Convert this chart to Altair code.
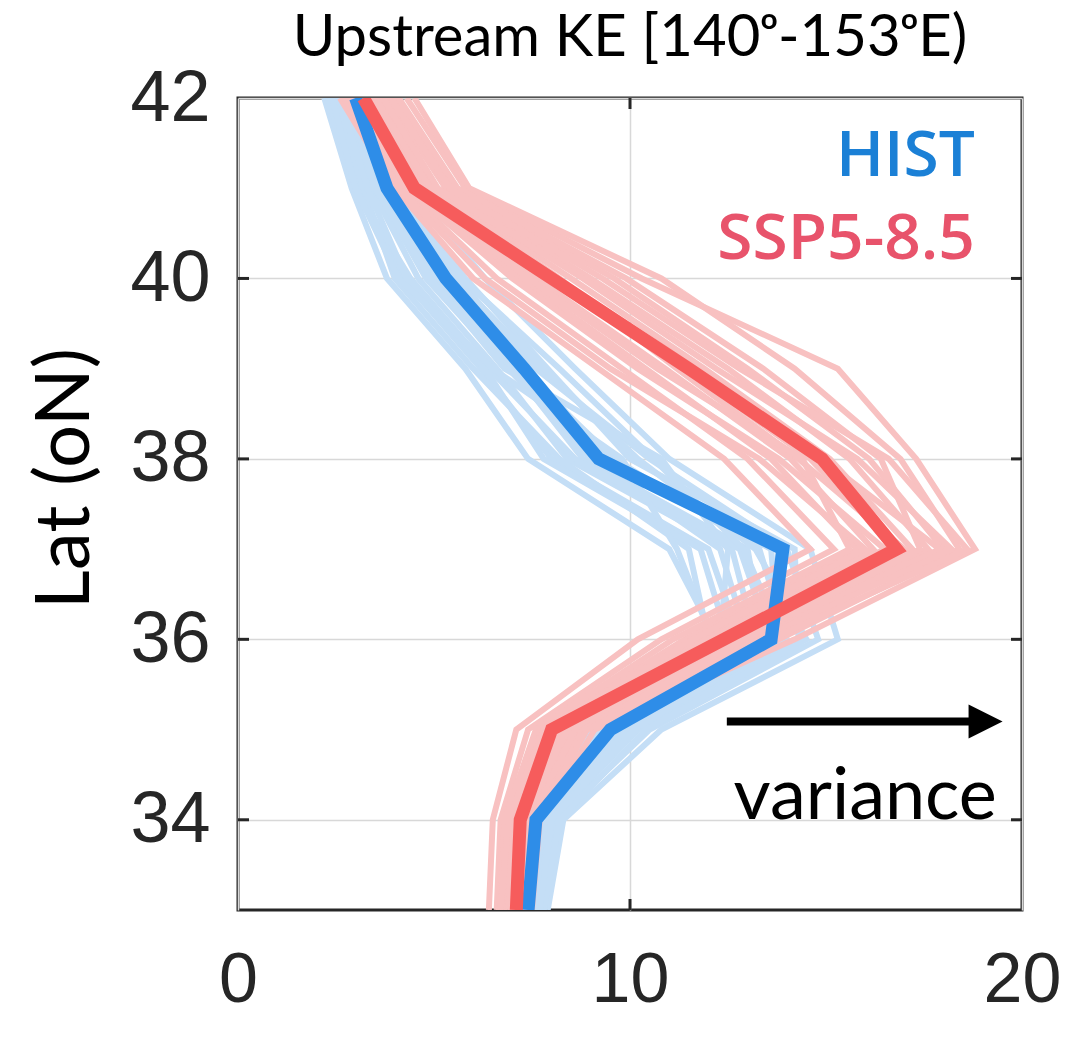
import altair as alt
import pandas as pd

# Latitude levels (degrees N), north to south
lats = [42, 41, 40, 39, 38, 37, 36, 35, 34, 33]

# Ensemble-mean KE variance profiles
hist_mean = [3.0, 3.8, 5.3, 7.3, 9.2, 13.9, 13.6, 9.5, 7.6, 7.4]
ssp_mean = [3.2, 4.5, 8.0, 11.5, 14.9, 16.8, 12.4, 8.0, 7.2, 7.1]

# Individual ensemble members, HIST
hist_members = [
    [2.2, 2.9, 3.8, 5.8, 7.4, 11.0, 12.2, 9.0, 7.5, 7.3],
    [2.4, 3.1, 4.2, 6.2, 8.0, 12.0, 12.8, 9.2, 7.6, 7.4],
    [2.6, 3.4, 4.6, 6.6, 8.4, 12.6, 13.2, 9.4, 7.7, 7.5],
    [2.8, 3.6, 5.0, 7.0, 8.8, 13.0, 13.4, 9.6, 7.8, 7.6],
    [3.0, 3.9, 5.4, 7.4, 9.4, 13.6, 13.8, 9.8, 7.9, 7.6],
    [3.1, 4.1, 5.8, 7.9, 10.0, 14.2, 14.3, 10.2, 8.0, 7.7],
    [3.3, 4.4, 6.3, 8.6, 11.0, 14.6, 15.3, 10.8, 8.3, 7.9],
    [2.5, 3.2, 4.0, 6.0, 8.2, 11.5, 12.0, 8.8, 7.4, 7.2],
    [2.7, 3.5, 4.8, 6.9, 9.0, 12.3, 13.0, 9.3, 7.6, 7.5],
    [2.9, 3.7, 5.2, 7.2, 9.6, 13.3, 14.0, 10.0, 7.9, 7.7],
    [3.2, 4.2, 5.6, 7.6, 10.5, 14.0, 14.8, 10.5, 8.1, 7.8],
    [2.3, 3.0, 4.4, 6.4, 8.6, 12.8, 13.6, 9.7, 7.8, 7.5],
    [2.6, 3.3, 4.3, 6.3, 7.8, 11.8, 12.5, 9.1, 7.5, 7.3],
    [3.0, 3.8, 5.1, 7.1, 9.2, 13.8, 13.5, 9.9, 8.0, 7.6],
    [2.8, 3.5, 4.9, 6.8, 10.8, 12.5, 12.3, 9.4, 7.7, 7.4],
    [3.1, 4.0, 5.5, 7.8, 10.2, 13.2, 14.5, 10.4, 8.2, 7.8],
    [2.4, 3.0, 4.1, 6.5, 9.8, 11.2, 12.1, 9.0, 7.5, 7.3],
    [2.9, 3.9, 5.7, 8.2, 10.6, 12.9, 13.9, 10.1, 8.0, 7.7],
]

# Individual ensemble members, SSP5-8.5
ssp_members = [
    [2.6, 4.0, 6.0, 9.2, 12.4, 14.6, 10.2, 7.1, 6.5, 6.4],
    [2.8, 4.2, 6.6, 9.8, 13.0, 15.2, 10.8, 7.4, 6.7, 6.6],
    [3.0, 4.4, 7.2, 10.4, 13.6, 15.8, 11.4, 7.7, 6.9, 6.8],
    [3.2, 4.6, 7.6, 10.9, 14.1, 16.2, 11.8, 7.9, 7.0, 6.9],
    [3.4, 4.8, 8.0, 11.4, 14.6, 16.8, 12.3, 8.1, 7.2, 7.0],
    [3.6, 5.0, 8.5, 11.9, 15.1, 17.2, 12.7, 8.3, 7.3, 7.1],
    [3.8, 5.3, 9.0, 12.5, 15.6, 17.6, 13.1, 8.5, 7.4, 7.2],
    [4.0, 5.5, 9.6, 13.0, 16.1, 18.0, 13.5, 8.7, 7.5, 7.3],
    [4.3, 5.8, 10.3, 15.3, 17.3, 18.8, 14.2, 9.1, 7.7, 7.5],
    [4.5, 5.9, 10.8, 14.2, 16.9, 18.4, 13.8, 8.9, 7.6, 7.4],
    [2.9, 4.3, 7.0, 10.2, 13.8, 16.5, 12.0, 8.0, 7.1, 7.0],
    [3.3, 4.7, 7.9, 11.6, 14.9, 17.9, 13.0, 8.4, 7.3, 7.1],
    [3.5, 4.9, 8.2, 11.2, 14.3, 17.0, 12.5, 8.2, 7.2, 7.0],
    [3.7, 5.1, 8.8, 12.2, 15.8, 18.2, 13.3, 8.6, 7.5, 7.3],
    [4.1, 5.6, 9.9, 13.4, 16.4, 17.4, 12.9, 8.8, 7.6, 7.4],
    [3.1, 4.5, 7.4, 10.7, 14.4, 15.6, 11.1, 7.6, 6.8, 6.7],
    [2.7, 4.1, 6.3, 9.5, 13.3, 16.0, 11.6, 7.8, 6.9, 6.7],
    [3.9, 5.4, 9.3, 12.8, 16.6, 18.6, 13.6, 8.9, 7.6, 7.4],
]

# Axis ticks and labels
x_ticks = [0, 10, 20]
y_ticks = [34, 36, 38, 40, 42]
inner_y_ticks = [34, 36, 38, 40]
inner_x_ticks = [10]

# Annotations
legend_labels = ["HIST", "SSP5-8.5"]
legend_colors = ["#1b80d6", "#e8536b"]
legend_x = [18.8, 18.8]
legend_lat = [41.14, 40.22]
arrow_start, arrow_end, arrow_head, arrow_lat = 12.47, 18.7, 19.07, 35.09
note_text, note_x, note_lat = "variance", 16.0, 34.01


def members_frame(members, prefix):
    rows = []
    for i, profile in enumerate(members):
        for lat, ke in zip(lats, profile):
            rows.append({"member": f"{prefix}{i}", "lat": lat, "ke": ke})
    return pd.DataFrame(rows)


hist_df = members_frame(hist_members, "h")
ssp_df = members_frame(ssp_members, "s")
hist_mean_df = pd.DataFrame({"lat": lats, "ke": hist_mean})
ssp_mean_df = pd.DataFrame({"lat": lats, "ke": ssp_mean})

x_scale = alt.Scale(domain=[0, 20], nice=False, zero=False)
y_scale = alt.Scale(domain=[33, 42], nice=False, zero=False)

x_enc = alt.X(
    "ke:Q",
    scale=x_scale,
    axis=alt.Axis(
        values=x_ticks, format="d", title=None, grid=True, gridColor="#d8d8d8",
        gridWidth=1.5, ticks=False, domain=False, labelFont="Liberation Sans",
        labelFontSize=70, labelColor="#262626", labelPadding=36, labelFlush=False,
        labelOverlap=False, labelBound=False,
    ),
)
y_enc = alt.Y(
    "lat:Q",
    scale=y_scale,
    axis=alt.Axis(
        values=y_ticks, format="d", title="Lat (oN)", grid=True, gridColor="#d8d8d8",
        gridWidth=1.5, ticks=False, domain=False, labelFont="Liberation Sans",
        labelFontSize=72, labelColor="#262626", labelPadding=28, labelFlush=False,
        labelOverlap=False, labelBound=False, titleFont="Lato", titleFontSize=76,
        titleFontWeight="normal", titleColor="#000000", titleAngle=270, titleX=-150,
        titleY=380, titleAlign="center", titleBaseline="alphabetic",
    ),
)


def profile_layer(df, color, width, detail=True):
    enc = dict(x=x_enc, y=y_enc, order=alt.Order("lat:Q", sort="descending"))
    if detail:
        enc["detail"] = "member:N"
    return alt.Chart(df).mark_line(color=color, strokeWidth=width, clip=True).encode(**enc)


hist_thin = profile_layer(hist_df, "#c4def6", 6)
ssp_thin = profile_layer(ssp_df, "#f8c1c1", 6)
hist_bold = profile_layer(hist_mean_df, "#2e8de8", 13, detail=False)
ssp_bold = profile_layer(ssp_mean_df, "#f65c5c", 13, detail=False)

legend_df = pd.DataFrame(
    {"label": legend_labels, "color": legend_colors, "ke": legend_x, "lat": legend_lat}
)
legend = alt.Chart(legend_df).mark_text(
    align="right", baseline="alphabetic", font="Open Sans", fontWeight=600, fontSize=64
).encode(x="ke:Q", y="lat:Q", text="label:N", color=alt.Color("color:N", scale=None))

shaft_df = pd.DataFrame({"ke": [arrow_start], "ke2": [arrow_end], "lat": [arrow_lat]})
shaft = alt.Chart(shaft_df).mark_rule(color="black", strokeWidth=8).encode(
    x="ke:Q", x2="ke2:Q", y="lat:Q"
)
head_df = pd.DataFrame({"ke": [arrow_head], "lat": [arrow_lat]})
head = alt.Chart(head_df).mark_point(
    shape="M-1,-1L1,0L-1,1Z", filled=True, color="black", opacity=1, size=1156
).encode(x="ke:Q", y="lat:Q")

note_df = pd.DataFrame({"text": [note_text], "ke": [note_x], "lat": [note_lat]})
note = alt.Chart(note_df).mark_text(
    align="center", baseline="alphabetic", font="Lato", fontSize=72, color="black"
).encode(x="ke:Q", y="lat:Q", text="text:N")

# Inward tick marks on all four sides of the box
ytick_df = pd.DataFrame({"lat": inner_y_ticks})
xtick_df = pd.DataFrame({"ke": inner_x_ticks})
tick_style = dict(color="#262626", strokeWidth=3)
left_ticks = alt.Chart(ytick_df).mark_rule(**tick_style).encode(
    y="lat:Q", x=alt.value(0), x2=alt.value(11)
)
right_ticks = alt.Chart(ytick_df).mark_rule(**tick_style).encode(
    y="lat:Q", x=alt.value(773), x2=alt.value(784)
)
top_ticks = alt.Chart(xtick_df).mark_rule(**tick_style).encode(
    x="ke:Q", y=alt.value(0), y2=alt.value(11)
)
bottom_ticks = alt.Chart(xtick_df).mark_rule(**tick_style).encode(
    x="ke:Q", y=alt.value(801), y2=alt.value(812)
)

chart = (
    alt.layer(
        hist_thin, ssp_thin, hist_bold, ssp_bold, legend, shaft, head, note,
        left_ticks, right_ticks, top_ticks, bottom_ticks,
    )
    .properties(
        width=784,
        height=812,
        title=alt.TitleParams(
            "Upstream KE [140ᵒ-153ᵒE)", font="Lato", fontSize=58, fontWeight="normal",
            color="#000000", frame="group", offset=0, dy=52, baseline="alphabetic",
            anchor="middle",
        ),
        padding={"left": 238, "top": 98, "right": 44, "bottom": 135},
        autosize=alt.AutoSizeParams(type="none"),
        background="white",
    )
    .configure_view(stroke="#262626", strokeWidth=3)
)

chart.save("out.html", embed_options={"renderer": "svg", "actions": False})
